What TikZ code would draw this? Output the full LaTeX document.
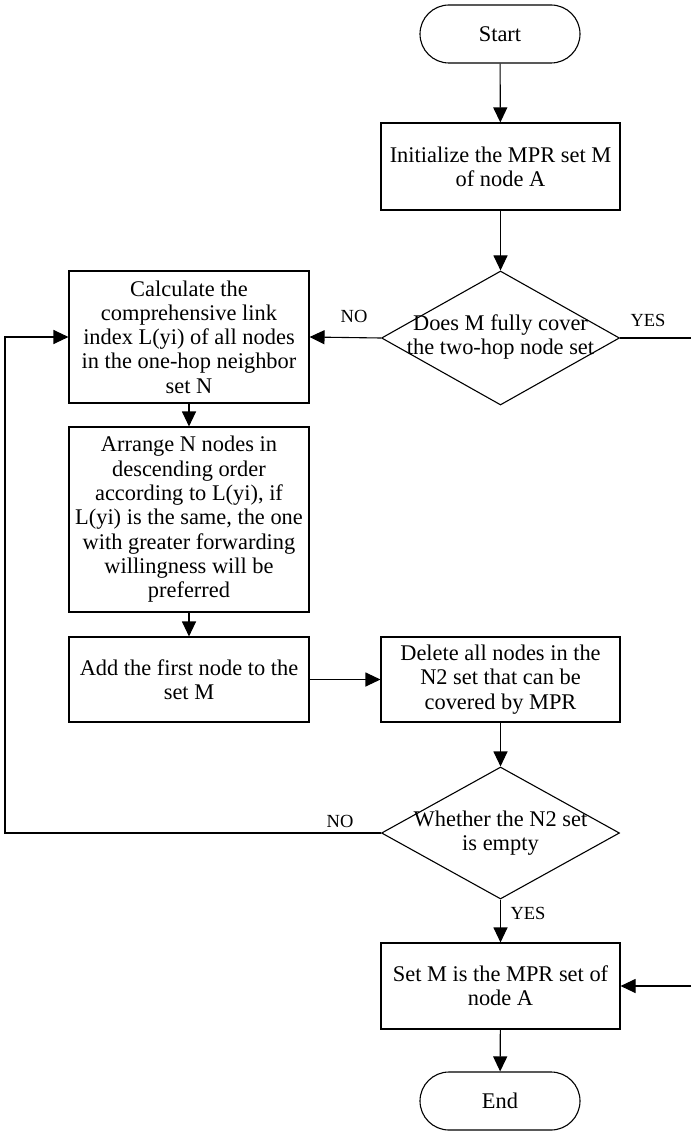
\documentclass[tikz,border=0pt]{standalone}
\usepackage{fontspec}
\setmainfont{Liberation Serif}
\usetikzlibrary{shapes.geometric,arrows.meta}
\begin{document}
\begin{tikzpicture}[x=1pt,y=-1pt,
  txt/.style={font=\fontsize{22.4}{24.3}\selectfont, align=center},
  box/.style={draw, line width=1.1pt, txt, inner sep=0pt, minimum width=239pt},
  pill/.style={draw, line width=1.1pt, txt, rounded corners=29pt, minimum width=160pt, minimum height=58pt},
  dia/.style={draw, line width=1.1pt, diamond, minimum width=238pt, minimum height=134pt, inner sep=0pt},
  lbl/.style={font=\fontsize{18.5}{20}\selectfont, inner sep=0pt},
  arr/.style={-{Triangle[length=15pt,width=14pt]}, line width=1.1pt},
  ln/.style={line width=1.1pt}]
\useasboundingbox (0,0) rectangle (691,1131);

\node[pill] (start) at (500,34) {Start};
\node[box, minimum height=87pt] (init) at (500.5,166.5) {Initialize the MPR set M\\of node A};
\node[dia] (d1) at (500.5,338) {};
\node[txt] (d1t) at (500.5,337) {Does M fully cover\\the two-hop node set};
\node[box, minimum width=240pt, minimum height=132pt] (calc) at (189,337) {Calculate the\\comprehensive link\\index L(yi) of all nodes\\in the one-hop neighbor\\set N};
\node[box, minimum width=240pt, minimum height=185pt] (arrange) at (189,519.5) {Arrange N nodes in\\descending order\\according to L(yi), if\\L(yi) is the same, the one\\with greater forwarding\\willingness will be\\preferred};
\node[box, minimum width=240pt, minimum height=85pt] (add) at (189,679.5) {Add the first node to the\\set M};
\node[box, minimum height=85pt] (del) at (500.5,679.5) {Delete all nodes in the\\N2 set that can be\\covered by MPR};
\node[dia, minimum height=132pt] (d2) at (500.5,833) {};
\node[txt] (d2t) at (500.5,833) {Whether the N2 set\\is empty};
\node[box, minimum height=86pt] (setm) at (500.5,986) {Set M is the MPR set of\\node A};
\node[pill] (end) at (500,1101) {End};

\node[lbl] (no1) at (354,316) {NO};
\node[lbl] (yes1) at (648,320) {YES};
\node[lbl] (no2) at (340,821) {NO};
\node[lbl] (yes2) at (528,913) {YES};

\coordinate (yesend) at (691,338);
\coordinate (loopl) at (5,833);
\coordinate (rin) at (691,986);

\draw[arr] (start) -- (init);
\draw[arr] (init) -- (d1);
\draw[arr] (d1.west) -- (calc.east);
\draw[ln] (d1.east) -- (yesend);
\draw[arr] (calc) -- (arrange);
\draw[arr] (arrange) -- (add);
\draw[arr] (add) -- (del);
\draw[arr] (del) -- (d2);
\draw[arr] (d2.west) -- (loopl) |- (calc.west);
\draw[arr] (d2.south) -- (setm.north);
\draw[arr] (rin) -- (setm.east);
\draw[arr] (setm) -- (end);
\end{tikzpicture}
\end{document}
